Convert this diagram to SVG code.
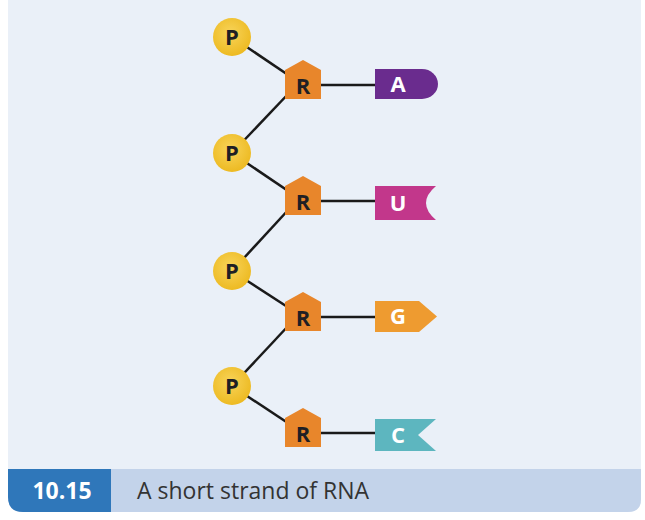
<svg xmlns="http://www.w3.org/2000/svg" width="645" height="520" viewBox="0 0 645 520">
<defs>
<radialGradient id="pg" cx="0.45" cy="0.4" r="0.6">
<stop offset="0" stop-color="#F8D45A"/>
<stop offset="1" stop-color="#EDBA22"/>
</radialGradient>
<clipPath id="panel"><path d="M8 0 H641 V499 Q641 512 628 512 H23 Q8 512 8 497 Z"/></clipPath>
</defs>
<style>
.p{fill:url(#pg);}
.r{fill:#E8862B;}
.lbl{font-family:"Open Sans","Liberation Sans",sans-serif;font-weight:bold;font-size:22px;text-anchor:middle;}
.dark{fill:#1F1F24;}
.wht{fill:#FFFFFF;}
.ln{stroke:#1A1A1A;stroke-width:2.5;fill:none;}
</style>
<g id="background">
<rect x="0" y="0" width="645" height="520" fill="#FFFFFF"/>
<path d="M8 0 H641 V499 Q641 512 628 512 H23 Q8 512 8 497 Z" fill="#EAF0F8"/>
<g clip-path="url(#panel)">
<rect x="8" y="469" width="633" height="43" fill="#C3D3EA"/>
<rect x="8" y="469" width="103" height="43" fill="#2F77BA"/>
</g>
</g>
<g id="connectors">
<line class="ln" x1="232" y1="37" x2="303" y2="85"/>
<line class="ln" x1="290" y1="92" x2="232" y2="153"/>
<line class="ln" x1="232" y1="153" x2="303" y2="201"/>
<line class="ln" x1="290" y1="208" x2="232" y2="271"/>
<line class="ln" x1="232" y1="271" x2="303" y2="317"/>
<line class="ln" x1="290" y1="324" x2="232" y2="386"/>
<line class="ln" x1="232" y1="386" x2="303" y2="433"/>
<line class="ln" x1="321" y1="85" x2="376" y2="85"/>
<line class="ln" x1="321" y1="201" x2="376" y2="201"/>
<line class="ln" x1="321" y1="317" x2="376" y2="317"/>
<line class="ln" x1="321" y1="433" x2="376" y2="433"/>
</g>
<g id="P1"><circle class="p" cx="232" cy="37" r="19"/><text class="lbl dark" x="232" y="45">P</text></g>
<g id="P2"><circle class="p" cx="232" cy="153" r="19"/><text class="lbl dark" x="232" y="161">P</text></g>
<g id="P3"><circle class="p" cx="232" cy="271" r="19"/><text class="lbl dark" x="232" y="279">P</text></g>
<g id="P4"><circle class="p" cx="232" cy="386" r="19"/><text class="lbl dark" x="232" y="394">P</text></g>
<g id="R1"><path class="r" d="M285 70 L303 60 L321 70 V99 H285 Z"/><text class="lbl dark" x="303" y="94">R</text></g>
<g id="R2"><path class="r" d="M285 186 L303 176 L321 186 V215 H285 Z"/><text class="lbl dark" x="303" y="210">R</text></g>
<g id="R3"><path class="r" d="M285 302 L303 292 L321 302 V331 H285 Z"/><text class="lbl dark" x="303" y="326">R</text></g>
<g id="R4"><path class="r" d="M285 418 L303 408 L321 418 V447 H285 Z"/><text class="lbl dark" x="303" y="442">R</text></g>
<g id="A"><path d="M375 69 H422 A16 15 0 0 1 422 99 H375 Z" fill="#6A2C8E"/><text class="lbl wht" x="398" y="92">A</text></g>
<g id="U"><path d="M375 186 H436 Q416 203 436 220 H375 Z" fill="#C2378B"/><text class="lbl wht" x="398" y="211">U</text></g>
<g id="G"><path d="M375 301 H419 L437 316.5 L419 332 H375 Z" fill="#EE9B30"/><text class="lbl wht" x="398" y="324">G</text></g>
<g id="C"><path d="M375 419 H436 L418 435 L436 451 H375 Z" fill="#5DB6BF"/><text class="lbl wht" x="398" y="443">C</text></g>
<g id="caption">
<text x="62" y="499" font-family="'Open Sans','Liberation Sans',sans-serif" font-weight="bold" font-size="23" fill="#FFFFFF" text-anchor="middle">10.15</text>
<text x="137" y="499" font-family="'Open Sans','Liberation Sans',sans-serif" font-size="23" fill="#333333">A short strand of RNA</text>
</g>
</svg>
